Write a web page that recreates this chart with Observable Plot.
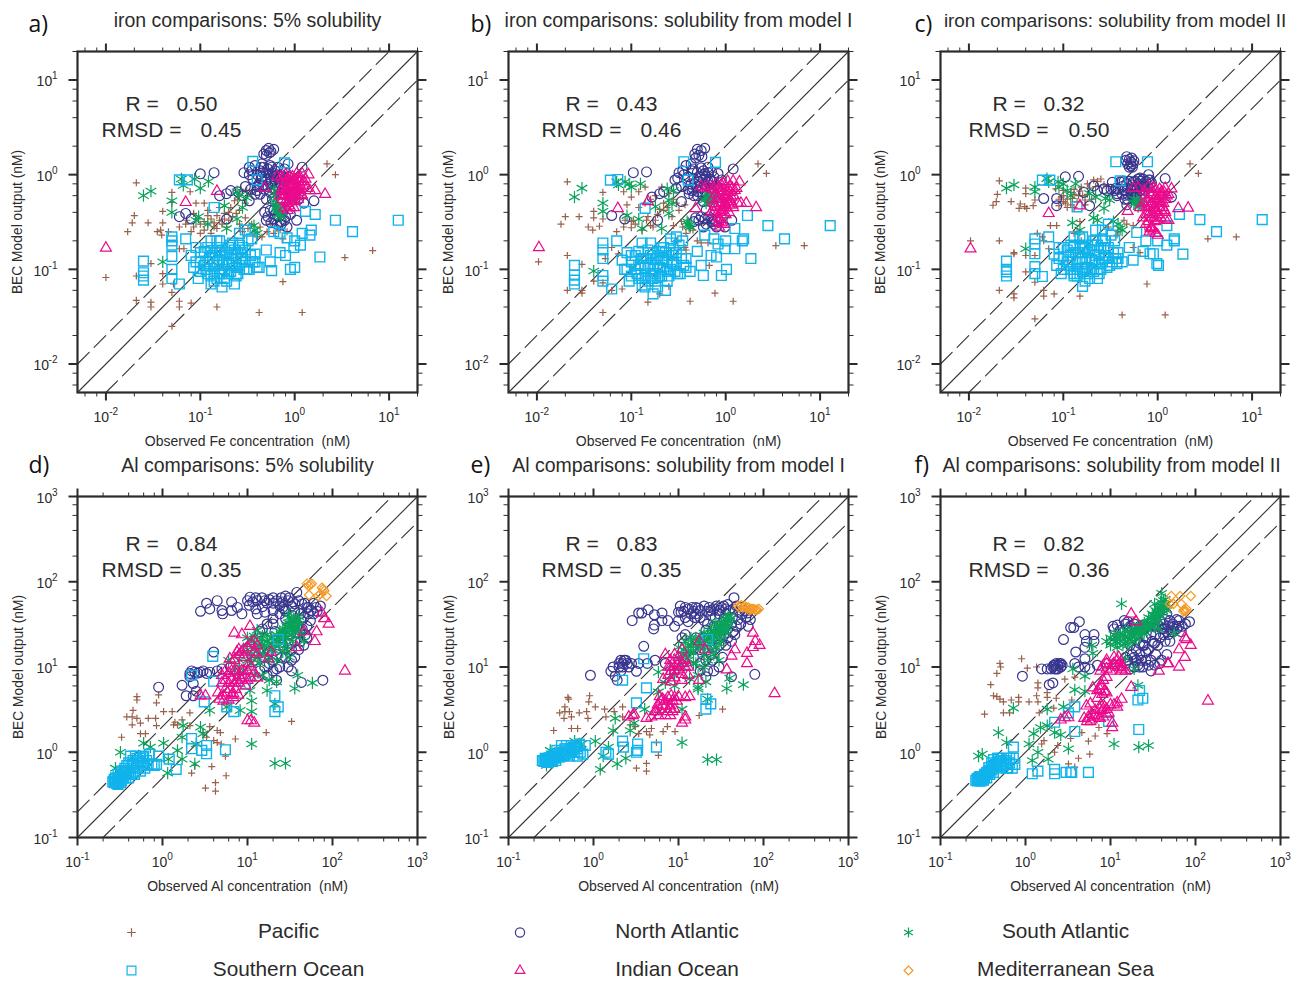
<!DOCTYPE html>
<html><head><meta charset="utf-8">
<script src="https://cdn.jsdelivr.net/npm/d3@7"></script>
<script src="https://cdn.jsdelivr.net/npm/@observablehq/plot@0.6"></script>
<style>
html,body{margin:0;padding:0;background:#fff}
#root{position:relative;width:1298px;height:981px;overflow:hidden}
#root svg{position:absolute;overflow:visible;background:transparent}
</style></head><body><div id="root"></div>
<script>
// values: flat lists x,y,x,y... in nM
const pacificA=[.021,.82,.01,.082,.02,.37,.019,.31,.017,.25,.028,.31,.04,.41,.04,.31,.05,.65,.05,.51,.035,.25,.038,.26,.046,.25,.039,.23,.021,.085,.021,.047,.03,.045,.03,.04,.04,.07,.05,.057,.05,.025,.06,.046,.06,.04,.08,.044,.15,.04,.42,.035,1.2,.035,.75,.074,3.4,.133,6.7,.158,2.7,1,2.2,1.3,.078,.66,.09,.5,.11,.5,.06,.28,.072,.33,.085,.28,.1,.24,.085,.39,.12,.37,.15,.37,.18,.39,.21,.45,.23,.53,.27,.7,.31,.68,.19,.28,.06,.165,.03,.115,.067,.165,.04,.09,.052,.07,.11,.26,.13,.24,.14,.28,.16,.33,.43,.28,.51,.25,.6,.24,.83,.25,.3,.35,.26,.42,.35,.3,.07,.3,.08,.25,.095,.34,.13,.34,.2,.4,.1,.3,.11,.32,.12,.3,.14,.31,.15,.27,.17,.3,.18,.34,.2,.33,.22,.36,.24,.39,.26,.3,.28,.25,.32,.27,.36,.24,.4,.22,.45,.22,.55,.3,.65,.27,.7,.26,.75,.21,.12,.42,.16,.45,.25,.55,.3,.5,.35,.62];
const northAtlanticA=[.47,1.65,.5,1.8,.53,1.9,.56,1.75,.6,1.85,.5,1.6,.54,1.7,.1,1.02,.14,1.05,1.2,1.2,1.6,.53,1.05,.33,.83,.28,.06,.36,.08,.34,.07,.39,.19,.34,.16,.6,.19,.63,.21,.68,.33,.53,.4,.68,.29,1.05,.33,1,.36,.9,.33,1.2,.38,1.25,.43,1.1,.47,1.2,.52,1.15,.57,1.2,.62,1.1,.66,1.2,.72,1,.78,1.15,.85,1.3,.45,.95,.5,.9,.56,.85,.61,.9,.7,.8,.42,.8,.48,.7,.55,.65,.63,.7,.75,.62,.88,.55,.95,.6,1.1,.55,1.25,.5,.75,.4,.68,.36,.6,.34,.52,.36,.5,.33,.56,.31,.65,.3,.72,.3,.78,.33,.28,.6,.25,.66,.98,.72,.9,.8,.35,1.1,.4,1,.44,.9,.46,1.05,.5,1.05,.54,1,.58,1.05,.6,.95,.65,1,.68,.9,.75,.95,.8,.85,.85,.95,.4,.75,.46,.78,.52,.75,.58,.72,.66,.75,.44,1.2,.55,1.25,.72,.32,.8,.36,.62,.38,.55,.42,.48,.4,.7,.45,.45,1.3,.55,.8,.62,.82,.7,.95,.78,.72,.38,.62,.43,.62,.5,.55,.58,.55,.3,.75,.34,.7,.9,.38,.6,.42,.72,.55];
const southAtlanticA=[.025,.6,.03,.67,.05,.53,.05,.4,.04,.12,.063,.9,.087,.9,.066,.77,.122,.85,.1,.72,.096,.36,.09,.33,.12,.3,.19,.27,.18,.47,.245,.34,.28,.45,.26,.6,.31,.57,.245,.66,.38,.26,.37,.29,.66,.42,.7,.38,.65,.47,.72,.4,.6,.53,.6,.71,.155,.11,.62,.6,.64,.45,.68,.44,.7,.42,.66,.38,.72,.36,.4,.24];
const southernA=[12.5,.33,4.1,.25,2.7,.33,1.65,.38,1.3,.41,1.5,.26,1.45,.23,1.2,.24,1.15,.18,1.85,.135,1,.105,.9,.1,.57,.097,.5,.16,.55,.12,.7,.15,.8,.14,.83,.215,1,.2,.98,.17,.7,.24,.6,.25,.4,.88,.36,1.38,.78,1.33,.14,.45,.06,.88,.073,.88,.025,.122,.025,.092,.025,.085,.025,.077,.05,.22,.05,.2,.05,.18,.05,.137,.05,.1,.05,.08,.06,.07,.08,.14,.09,.17,.1,.12,.1,.095,.11,.155,.12,.17,.125,.13,.13,.085,.13,.07,.14,.11,.145,.15,.15,.17,.15,.2,.16,.09,.16,.125,.17,.065,.18,.1,.18,.14,.19,.075,.2,.17,.2,.115,.21,.095,.22,.19,.22,.13,.23,.07,.24,.105,.25,.15,.26,.18,.27,.12,.29,.1,.3,.16,.32,.2,.33,.1,.35,.21,.38,.145,.38,.12,.4,.105,.42,.105,.07,.21,.085,.105,.095,.08,.115,.1,.135,.14,.17,.16,.24,.085,.13,.2,.15,.12,.19,.15,.26,.24,.3,.26,.09,.12,.11,.11,.12,.09,.13,.15,.14,.09,.15,.08,.16,.15,.17,.11,.18,.08,.19,.12,.2,.09,.21,.14,.22,.11,.23,.16,.24,.13,.25,.09,.26,.11,.27,.15,.28,.13,.3,.12,.31,.1,.34,.14,.36,.12,.17,.09,.14,.075,.12,.12,.1,.15,.28,.17,.16,.2,.21,.18];
const indianA=[.01,.168,.07,.51,.15,.67,.48,.72,2.1,.62,1.65,.68,1.4,1,.72,.95,.65,.95,.8,1,.95,.95,1.05,1.02,1.2,1.02,1.3,.9,.75,.75,.8,.62,.75,.55,.85,.5,.9,.45,.85,.7,.9,.85,.95,.6,1,.7,1,.52,1.05,.8,1.1,.65,1.1,.92,1.15,.75,1.2,.6,1.25,.85,.78,.45,.85,.6,.9,.72,.95,.78,1,.88,.98,.45,.7,.6,1.35,.72,1.45,.68,.82,.85,.88,.55,.74,.9,.78,.8,.8,.7,.83,.9,.86,.78,.88,.65,.9,.95,.92,.72,.94,.52,.96,.85,.98,.68,1.02,.75,1.03,.6,1.06,.9,1.08,.55,1.12,.82,1.14,.68,1.17,.9,1.18,.62,1.22,.78,.72,.68,.76,.6,.8,.52,.84,.42,.92,.58,1,.62,1.05,.7,.87,.47,1.1,.72,.96,.65];

const pacificB=[.021,.84,.0104,.12,.02,.36,.018,.3,.028,.36,.04,.35,.04,.41,.05,.65,.05,.34,.035,.28,.039,.26,.046,.285,.021,.14,.03,.113,.021,.06,.03,.056,.04,.075,.062,.06,.05,.035,.15,.045,.42,.046,.77,.056,1.2,.046,3.4,.178,6.8,.178,2.7,1.03,2.2,1.3,.083,.66,.1,.58,.09,.48,.12,.66,.14,.74,.083,.28,.1,.275,.086,.33,.105,.33,.07,.25,.145,.33,.17,.28,.21,.74,.25,.63,.2,.43,.27,.36,.37,.48,.38,.24,.4,.33,.3,.2,.55,.19,.65,.19,.37,.17,.38,.16,.67,.11,.062,.17,.053,.13,.073,.146,.2,.055,.25,.066,.08,.062,.05,.072,.03,.06,.1,.32,.11,.3,.13,.26,.15,.36,.16,.29,.18,.33,.19,.38,.22,.42,.24,.45,.28,.29,.3,.5,.32,.42,.35,.28,.45,.26,.5,.2,.12,.45,.14,.5,.16,.55,.18,.6,.22,.5,.34,.32,.42,.27,.28,.55];
const northAtlanticB=[.105,1.05,.145,1.07,.47,1.65,.5,1.85,.55,1.8,.6,1.9,.52,1.6,.56,1.55,.48,1.5,1.2,1.15,.062,.37,.085,.34,.19,.33,.165,.58,.2,.63,.22,.66,.32,1.05,.31,.92,.38,1.25,.43,1.3,.65,1.2,.83,1.03,.6,1.03,.43,.8,.44,.68,.51,.66,.34,.52,.41,.63,.55,1.18,.71,1.07,.29,.88,.36,1,.9,.88,.52,.33,.6,.34,.75,.3,.8,.28,.98,.28,1.16,.33,.46,.32,.71,.34,.6,.68,.71,.72,.83,.74,.47,.8,.35,1.1,.4,.95,.44,1.1,.46,.9,.5,1.05,.54,.95,.58,1.1,.62,.95,.65,1.05,.68,.9,.75,.95,.5,.75,.55,.72,.6,.8,.65,.85,.7,.65,.46,.6,.56,.62,.62,.6,.72,.32,.8,.32,.62,.3,.55,.36,.48,.35,.66,.36,.58,.28,.45,1.15,.52,.85,.6,.9,.7,.85,.76,.72,.4,.7,.45,.72,.5,.6,.58,.52,.3,.72,.34,.75,.9,.35,.62,.42,.72,.55];
const southAtlanticB=[.025,.58,.03,.72,.05,.5,.05,.41,.04,.096,.07,.84,.073,.78,.086,.84,.1,.74,.125,.8,.095,.8,.09,.37,.12,.34,.13,.27,.18,.46,.25,.39,.21,.27,.25,.54,.28,.68,.27,.49,.24,.71,.39,.32,.41,.29,.65,.56,.8,.58,.6,.54,.71,.52,.62,.5,.66,.6,.7,.56,.75,.55,.62,.58,.4,.3,.42,.28];
const southernB=[12.8,.29,4.2,.21,2.8,.29,1.7,.37,1.25,.27,1.55,.21,1.5,.2,1.25,.165,1.85,.13,1.02,.1,.9,.086,.58,.086,.5,.155,.55,.11,.7,.14,.8,.135,.83,.185,1,.2,.98,.165,.75,.21,.6,.23,.4,.875,.36,1.37,.78,1.35,.14,.44,.06,.875,.072,.89,.025,.11,.025,.087,.025,.077,.025,.07,.05,.19,.05,.16,.05,.13,.05,.086,.05,.075,.062,.062,.08,.125,.09,.15,.1,.12,.1,.085,.11,.14,.12,.155,.125,.11,.13,.08,.13,.068,.14,.105,.145,.13,.15,.16,.16,.085,.16,.115,.17,.055,.18,.09,.18,.13,.19,.065,.2,.155,.2,.105,.21,.085,.22,.17,.22,.125,.23,.06,.24,.095,.25,.14,.26,.19,.27,.115,.29,.095,.3,.15,.32,.18,.33,.09,.35,.2,.38,.13,.38,.105,.42,.095,.07,.2,.085,.1,.095,.075,.115,.09,.135,.13,.17,.15,.24,.075,.13,.19,.15,.11,.19,.14,.26,.21,.3,.22,.09,.1,.11,.1,.12,.08,.13,.13,.14,.08,.15,.075,.16,.14,.17,.1,.18,.075,.19,.11,.2,.085,.21,.13,.22,.1,.23,.15,.24,.12,.25,.085,.26,.1,.27,.14,.28,.12,.3,.11,.31,.09,.34,.13,.36,.11,.17,.08,.14,.065,.12,.11,.1,.14,.28,.16,.16,.19,.21,.17];
const indianB=[.0105,.17,.072,.44,.15,.52,.48,.44,2.1,.45,1.65,.5,1.4,.84,.65,.75,.72,.75,.8,.8,.95,.8,1.05,.85,1.2,.85,1.3,.72,.75,.5,.8,.45,.75,.4,.85,.35,.9,.31,.85,.55,.9,.68,.95,.45,1,.55,1,.38,1.05,.65,1.1,.48,1.1,.75,1.15,.58,1.2,.45,1.25,.68,.85,.28,.95,.3,.7,.4,1.35,.5,1.45,.5,.6,.72,.55,.75,.88,.4,.98,.6,.74,.7,.78,.62,.8,.55,.83,.72,.86,.62,.88,.48,.9,.78,.92,.55,.94,.38,.96,.68,.98,.5,1.02,.6,1.03,.45,1.06,.72,1.08,.4,1.12,.65,1.14,.52,1.17,.72,1.18,.48,1.22,.6,.72,.55,.76,.46,.8,.38,.84,.32,.92,.42,1,.45,1.05,.52,.87,.34,1.1,.55,.96,.48];

const pacificC=[.021,.86,.0104,.2,.02,.62,.0195,.52,.018,.475,.028,.52,.04,.72,.04,.63,.05,.54,.035,.49,.039,.46,.048,.47,.034,.44,.041,.44,.021,.2,.03,.146,.021,.06,.03,.055,.03,.05,.04,.094,.05,.073,.062,.06,.062,.052,.08,.055,.05,.03,.15,.052,.42,.033,.77,.07,1.2,.033,3.4,.21,6.8,.22,2.7,1.03,2.2,1.3,.083,.71,.1,.68,.095,.58,.12,.65,.145,.6,.09,.47,.105,.5,.125,.56,.155,.74,.18,.8,.21,.88,.25,.9,.17,.54,.073,.29,.085,.29,.053,.24,.062,.2,.06,.22,.07,.165,.05,.14,.03,.15,.04,.14,.15,.32,.13,.24,.155,.2,.14,.25,.3,.28,.44,.33,.47,.3,.55,.29,.38,.25,.37,.23,.55,.17,.65,.15,.73,.28,.1,.6,.11,.55,.12,.48,.13,.62,.14,.52,.11,.45,.1,.52,.09,.55,.13,.45,.16,.6,.18,.62,.19,.72,.22,.75,.23,.85,.27,.78,.3,.75,.13,.7,.15,.67,.17,.48,.2,.55];
const northAtlanticC=[.105,.95,.145,.96,.47,1.55,.52,1.36,.55,1.3,.5,1.2,.46,1.42,.53,1.5,1.2,.91,.062,.56,.085,.56,.085,.47,.19,.47,.165,.65,.21,.76,.23,.68,.27,.71,.33,.83,.4,.84,.47,.8,.55,.84,.65,.92,.8,1,.83,.88,.71,.8,.58,.74,.37,.63,.44,.68,.53,.63,.35,.68,.29,.68,.65,.68,.9,.61,1.4,.58,.47,.48,.37,.6,.42,.75,.48,.72,.5,.85,.54,.78,.58,.85,.6,.7,.62,.8,.66,.75,.7,.9,.75,.85,.78,.75,.86,.82,.42,.62,.48,.62,.52,.7,.56,.68,.6,.62,.45,.55,.56,.58,.68,.62,.74,.68,.48,1.3,.5,1.45,.54,1.2,.56,1.4,.52,1.25,.44,.85,.52,.62,.58,.6,.66,.85,.72,.75,.38,.7,.42,.85,.48,.55,.6,.55,.32,.7,.36,.72,.62,.9,.7,.7,.8,.88];
const southAtlanticC=[.025,.72,.03,.78,.05,.74,.05,.66,.04,.165,.067,.91,.07,.84,.088,.84,.09,.74,.11,.68,.135,.8,.12,.6,.1,.8,.19,.63,.22,.58,.28,.56,.31,.54,.27,.44,.21,.35,.23,.33,.125,.31,.15,.26,.34,.32,.38,.3,.4,.27,.6,.54,.65,.48,.56,.5,.58,.5,.62,.52,.64,.5,.68,.5,.56,.55,.62,.46,.42,.26];
const southernC=[12.8,.335,4.2,.25,2.8,.335,1.7,.38,1.25,.29,1.5,.21,1.5,.2,1.25,.18,1.85,.145,1.02,.11,.98,.115,.55,.125,.5,.17,.37,.115,.7,.155,.83,.146,.75,.2,1,.2,.9,.146,.6,.245,.4,.86,.36,1.37,.78,1.37,.14,.456,.06,.875,.072,.875,.025,.122,.025,.1,.025,.094,.025,.085,.05,.21,.05,.185,.05,.146,.05,.107,.05,.09,.06,.084,.16,.066,.08,.145,.09,.17,.1,.135,.1,.1,.11,.16,.12,.18,.125,.12,.13,.09,.13,.085,.14,.12,.145,.15,.15,.18,.15,.21,.16,.095,.16,.13,.17,.075,.18,.105,.18,.15,.19,.08,.2,.18,.2,.125,.21,.095,.22,.2,.22,.14,.23,.08,.24,.115,.25,.17,.26,.21,.27,.13,.29,.105,.3,.17,.32,.23,.33,.12,.35,.2,.38,.15,.38,.13,.42,.12,.07,.22,.085,.11,.095,.09,.115,.11,.135,.15,.17,.17,.24,.09,.13,.22,.15,.13,.19,.16,.26,.26,.3,.3,.22,.26,.09,.13,.11,.12,.12,.1,.13,.17,.14,.1,.15,.09,.16,.17,.17,.12,.18,.09,.19,.13,.2,.1,.21,.16,.22,.12,.23,.18,.24,.14,.25,.1,.26,.12,.27,.17,.28,.14,.3,.13,.31,.11,.34,.15,.36,.13,.17,.1,.14,.085,.12,.14,.1,.17,.28,.2,.16,.22,.21,.2];
const indianC=[.0104,.165,.07,.39,.15,.47,.48,.41,2.1,.445,1.65,.44,1.4,.71,.55,.72,.62,.72,.72,.68,.8,.75,.95,.7,1.05,.7,1.2,.72,1.3,.62,.75,.45,.85,.35,.8,.38,.75,.3,.85,.28,.9,.26,.92,.55,.9,.65,.95,.4,1,.5,1,.33,1.05,.6,1.1,.42,1.1,.66,1.15,.5,1.2,.4,1.25,.6,.82,.25,.95,.24,1,.23,.7,.35,1.3,.33,1.2,.34,.65,.45,.85,.48,.98,.56,.74,.6,.78,.52,.8,.46,.83,.62,.86,.5,.88,.4,.9,.72,.92,.45,.94,.32,.96,.6,.98,.42,1.02,.52,1.03,.38,1.06,.62,1.08,.35,1.12,.58,1.14,.45,1.17,.65,1.18,.42,1.22,.55,.72,.5,.76,.38,.8,.32,.84,.27,.92,.35,1,.38,1.05,.45,.87,.28,1.1,.5,.96,.4];

const pacificD=[.5,4.5,.5,4.1,.45,3.1,.9,4.7,.85,3.8,.38,2.6,.44,2.6,.5,2.5,.44,2.1,.55,2.2,.68,2.5,.83,2.5,.85,2.05,1.03,3,1.3,3,1.4,2.25,1.7,2.4,2.1,2.9,2.1,2.05,.33,1.5,.55,1.65,.63,1.65,3,1.7,3.6,2,4.4,1.8,4.8,1.7,3.3,1.5,4,1.37,4.4,1.3,4.9,1.25,7.2,1.43,2.5,1.25,5.5,.9,3.8,.68,5.6,.53,4.2,.44,4.2,.35,3.2,.38,2.2,.57,2.4,.7,33,2.3,16.6,1.7,1.35,2.1,1.5,2.1];
const northAtlanticD=[.9,5.8,2.8,45,3.3,56,3.6,48,4.4,60,5,46,5.1,42,6.5,58,6.5,46,7.6,50,8.6,42,10.7,66,12.5,65,14.8,65,17,56,20,65,25,65,28,68,31,65,38,75,10.5,53,12.5,48,15,51,20,56,24,52,27,48,33,52,47,56,60,56,72,52,52,42,43,35,50,30,28,37,20,37,20,32,15,28,14,26,4,15,1.7,6.1,2.1,8.4,2.4,8.7,1.9,4.6,2.3,6.4,2.8,8.7,3.3,8.4,3.6,8.7,4.4,9,5,9.5,6.3,10,2.3,4.6,43,6.6,77,7,22,7,33,12,22,9.5,18,11,15.5,13,14.2,16,33,16,41,27,50,22,30,19,10,60,11.5,58,13,60,16,60,18,62,22,60,26,58,30,60,34,58,40,60,44,55,52,50,56,46,64,50,36,45,42,42,46,38,34,40,28,45,24,42,20,46,16,44,13,42,38,30,32,24,26,18,22,14,18,15,16,10,20,12,24,10,28,13,36,20,44,28,2.2,9,2.6,8.5,3,9,2.1,7.7,2.5,5.2,35,30,38,25,42,20,46,18,30,26,25,22,21,26,17,32,16,18,12,12,14,9,17,8,20,9,25,13,30,10,33,9,36,13,40,16,48,24,55,35,60,42,66,45,50,50,36,55,26,50];
const southAtlanticD=[.28,.65,.32,1,.6,1.28,.72,1.15,1.03,1.28,1.15,.57,1.17,.83,1.5,1.05,1.75,2.05,1.7,1.5,1.7,.83,2.4,.73,2.5,1.25,2.8,1.97,3,1.65,3.6,3.1,5.7,3.4,8.2,3.1,10.7,5.3,11.2,4,11.2,3,11.2,1.25,21,.74,28,.74,21,3.7,17,5.3,22,6.7,36,5.6,39,8,58,6.5,31,42,35,37,40,39,29,30,33,27,27,22,22,20,17,20,14.5,21,12,19,11,20,15,17,20,16,29,16,31,13,26,27,38,30,41,32,46,20,13,27,7,9,8,10,11,11,30,33,33,36,36,30,30,25,27,28,25,24,24,18,22,24,19,22,17,24,15,23,14,18,12,23,10,22,10,16,13,13,9,15,20,22,28,18,34,24,36,34,40,27,42,24,31,38,8,12,9,9,12,8,15,8,18,7,6,12,12,16,14,14,16,18,18,19,19,16,21,18,23,22,24,26,26,24,28,26,29,22,30,29,32,31,33,24,35,28,37,33,39,35,34,20,26,15,22,12,18,12,14,11,11,14,16,14,10,12];
const southernD=[.27,.44,.28,.46,.29,.43,.3,.45,.31,.47,.3,.5,.32,.44,.33,.46,.34,.5,.33,.55,.36,.58,.35,.6,.38,.55,.4,.6,.42,.65,.4,.75,.45,.58,.5,.75,.5,.85,.55,.85,.45,.8,.58,.88,.42,.9,.55,.6,.6,.7,.65,.8,.7,.95,.75,.72,.85,.72,.9,.9,.8,.7,1.2,.83,1.45,.63,2.2,1.1,2.2,1.45,2.9,1.05,3.3,1.2,3.3,.96,5.5,1.07,6.9,3,5.7,3.4,3.1,3.9,4,6.8,3.9,13.3,2.2,8,21,4.6,23,3.4,21,3,23,21,9.4,6.4,.28,.5,.3,.55,.32,.48,.33,.6,.35,.52,.36,.65,.37,.5,.38,.7,.4,.5,.42,.55,.44,.72,.45,.68,.47,.55,.48,.9,.5,.65,.52,.8,.55,.75,.6,.9,.62,.65,.68,.72,.3,.42,.27,.48,.26,.45];
const indianD=[140,9,90,32,75,43,80,37,62,20,65,26,46,26,38,17,7,25,8.6,24,10.7,30,12,20,13,18,7.9,16,8.6,15,6.2,12.5,9,13,19,15,17.5,12.5,11,2.35,10,2.35,12,2.2,2.8,4.6,3.2,4.6,5,8,5.5,7,6,8.5,6.5,7,7,9,7.5,7,8,8,8.5,9,9,7.5,10,9,11,7.5,12,8.5,13,7.5,4.5,5,4.7,4.2,5.2,4.6,5.8,5,6.5,4.7,7.2,5.5,6.8,4.9,6,4.1,7.8,4.7,5,6.5,5.5,9,6,6.5,6.5,9,7,6.5,7.5,9,8,6.5,8.5,7,9,9,9.5,6,10,7,10.5,11,11,10,7,12,8,14,9,16,10,17,11,19,12,15,13,14,7.5,15,5.2,4,5.5,5.5,6.2,5.5,6.8,4.4];
const mediterraneanD=[50,95,57,95,53,70,75,85,80,78,68,68,85,68,52,90,55,92,78,82,72,72];

const pacificE=[.5,4.4,.51,4.2,.9,4.6,.88,3.9,.46,3.4,.4,2.9,.46,3,.52,3,.45,2.5,.55,2.6,.68,2.9,.83,3,.86,2.5,1.05,3.4,1.35,3.2,1.4,2.6,1.75,3,2.2,3.4,2.2,2.6,.34,1.8,.55,1.9,.65,1.9,2.7,2.1,3.1,2,4.8,1.9,4.2,1.75,3.4,1.65,4.6,1.6,6.6,1.75,7.4,2,9.1,1.75,5.5,1.3,5.8,.92,4.2,.74,3.2,.65,4.2,.6,33,3.2,17.5,2.7];
const northAtlanticE=[.92,8,2.85,35,3.4,43,3.7,43,4.4,47,5.2,41,5.1,28,5.2,31,6.4,43,6.4,35,7.5,35,9,30,10.5,52,12,50,14.5,50,17,49,20,52,23,50,28,52,34,52,38,54,45,65,55,50,65,43,10.7,44,13,34,15.5,38,20,35,27,38,34,36,43,38,54,32,66,30,10,44,11,22,12,24,2.2,11,2.1,12,2.3,12,2.5,11,2,10,2.8,11,3.2,8.9,1.6,8.9,1.8,7.8,1.9,7,5.3,12,3.4,11,4.3,11,7,11,3.9,17.5,42,7.7,79,8.2,21,7.7,21,12,15,16,25,17,33,13,31,23,21,27,15,13,18,11,25,12,11.5,45,13,48,15,45,16,50,18,46,22,45,24,46,26,48,30,46,32,50,36,48,40,46,44,48,48,52,52,44,60,46,36,42,30,42,24,40,16,42,42,32,48,30,30,18,24,14,34,24,36,18,38,28,44,26,20,22,18,16,22,16,16,22,2.4,12,2.6,10,2.2,10,2,11,1.7,10,2.1,9,10,35,12,38,14,42,18,38,22,32,26,30,30,30,38,22,42,20,46,24,50,36,56,42,62,38,70,36,30,10,26,9,22,9,18,9];
const southAtlanticE=[.28,.7,.31,1.05,.6,1.35,.72,1.25,1.05,1.35,1.2,.63,1.3,.9,1.5,1.15,1.8,2.5,1.7,1.8,1.9,.73,2.4,.85,2.7,1.8,3,2.2,4,3.2,5.8,5.1,9,6,11,3.2,11,1.3,22,.82,28,.82,22,4.2,17,5.5,21,6.7,37,5.6,40,7.4,58,6.2,36,37,32,33,39,31,30,27,28,22,23,19,20,19,17,20,15,19,13,18,11.5,16,14,22,27,33,42,37,24,16,30,12,20,10,17,8,7,6.5,5.8,8.7,9,9.8,13.5,7.3,17,5.8,34,33,37,28,34,26,32,24,28,29,26,25,24,28,26,20,24,22,22,24,20,23,18,22,18,17,16,22,15,15,14,18,13,15,12,20,11,14,10,17,20,14,22,12,16,11,28,17,30,19,32,20,38,34,20,25,22,22,24,25,26,23,28,25,30,30,31,25,33,28,35,32,36,26,38,38,40,40,18,19,16,18,14,15,12,14,13,12,15,11,20,17,26,14,11,10,10,13,9,8];
const southernE=[.26,.78,.27,.8,.28,.77,.29,.82,.3,.8,.31,.85,.32,.78,.33,.82,.34,.87,.36,.9,.38,.88,.35,.95,.4,.95,.42,1,.37,1.05,.46,1.1,.45,.92,.5,.95,.52,1.05,.55,1.2,.48,1.2,.55,1,.6,1,.65,1.1,.7,1,.75,.95,.68,1.25,.65,.9,.8,1.2,.42,1.2,1.4,1,1.5,.95,2.2,1.35,2.25,1.15,3.3,1.25,3.3,1.05,3.2,1,5.5,1.15,2.2,7,3.9,12.5,4.2,5.7,3.2,3.8,22,21,21,4.2,24,3.7,21,3.2,.27,.85,.29,.76,.3,.86,.32,.9,.33,.78,.35,.85,.36,.8,.38,.95,.4,.88,.42,.9,.44,1,.46,.95,.48,1,.5,1.1,.52,.9,.55,1.1,.58,1.15,.6,1.1,.62,1.2,.65,1,.28,.84,.25,.8];
const indianE=[135,4.9,75,25,80,20,90,18,75,17,46,16,64,14.5,42,13.5,64,11,37,9.3,20.5,16,17.5,20,11,16,9,14,7,14,12,10,13,10,9,10,10,9.3,8.2,8.9,7.6,8,11,8.2,6.6,7.2,8.2,6.7,17.5,7,13.5,4.5,12,4.4,9,4.4,8.2,4.6,7.5,4.4,6.5,4.2,6.2,4,5.7,3.6,7,3.5,3,2.8,2.6,2.6,2.9,2.7,4.8,2.6,5.8,2.7,7,2.7,8,2.7,5.3,3,4.2,2.5,12,2.6,12,2.4,11,2.2,8,10,9,9,10,11,11,11,12,12,9,12,10,13,8,12,7.6,10,13,8,11,7,9,7.5,8.5,4,9.5,4,10,4.5,8,3.5,7,4,6,4.5,5.5,3,6,3.2,6.5,3.5,7.5,3,8,3.2,8.5,3,9,3.2];
const mediterraneanE=[50,52,60,52,66,50,80,47,88,48,55,53,73,48,52,50,57,50,62,50,70,48,76,48,84,47,68,46];

const pacificF=[.5,11,.51,10,.9,12.5,1.05,9.7,.46,8.4,1.35,10,.39,6.2,.42,4.6,.46,4.5,.5,4.2,.55,3.9,.68,4.1,.83,4.4,.83,3.9,1.1,3.9,1.35,4.6,1.4,3.9,1.4,6.5,1.4,5.7,1.8,5,1.8,4.4,2.9,7.2,2.3,4.3,3.8,7.6,.33,2.8,.55,2.9,.65,2.9,1.45,2.9,2.15,3.3,3.5,4.1,7.3,1.95,6.6,1.55,9.1,1.65,4.6,1.7,3.4,1.45,5.5,1.35,1.65,1.37,1.55,1.25,2.4,1.2,2.2,1,5.7,.95,4.2,.85,3.8,.67,3.2,.73];
const northAtlanticF=[.92,7.8,2.8,21,3.4,29,3.7,29,4.3,34,5,24,5,17,5.2,20,6.4,24,6.4,20,5,12.5,3.9,15,2.15,10.5,2.2,10.5,2.3,9.5,2.4,10.5,2.5,11,2,9.5,2.6,10,1.8,9.5,1.55,9.5,1.9,6.2,2.1,6.5,3.8,11,4.2,10,5,10,5.7,9.5,7,10.5,9,11,10.7,30,12,31,14.5,35,17,30,20,28,25,28,34,30,42,32,50,35,64,35,85,34,46,42,31,20,22,19,17,18,42,24,33,19,50,20,28,30,64,30,15,13,19,13,23,12,28,10.5,33,10.5,21,10.5,17,9.5,26,15,38,11,15,11,11,28,13,27,15,32,16,34,18,28,19,32,22,30,24,31,26,30,30,33,36,31,38,35,40,28,44,36,48,30,54,32,60,36,34,24,38,22,46,26,52,26,56,30,30,24,26,22,24,18,20,16,18,14,22,14,26,12,30,12,34,14,20,12,16,12,24,10,19,10,2.1,10,2.3,11,2.4,9.5,2.2,9.5,2.6,11,2.7,10.5,42,28,48,24,55,26,60,28,70,30,76,32,68,26,44,20,36,18,28,16,25,18,22,10,30,9,40,12,46,14];
const southAtlanticF=[.28,.9,.31,.95,.48,1.7,.6,1.3,.72,3.3,1.1,1.25,1.25,1.65,1.5,1.95,1.8,2.05,2.2,1.7,2.6,1.6,1.4,1,1.2,.8,1.85,.83,3.2,1.1,11,1.25,21.5,1.15,28,1.2,13.5,55,40,73,21,6.1,3.8,5.4,5,5.2,1.8,3.2,2.8,3.4,6,18,6.2,14.5,3.6,9.5,5,7.8,19,9.5,15,12.5,37,28,56,25,10,22,11.5,20,13,23,14.5,21,16,26,18,24,20,27,22,30,25,33,28,38,31,42,34,46,36,50,39,58,42,50,30,33,24,25,17,21,12,19,27,31,37,42,44,62,33,55,11,24,12,22,13,20,14,24,15,22,16,22,17,25,19,26,19,23,21,25,22,26,23,29,24,30,26,29,28,33,30,37,32,40,33,34,35,38,36,44,38,46,40,52,42,60,45,55,9,20,12,17,14,18,16,18,18,20,20,21,22,23,25,26,28,28,30,30,33,30,36,36,38,40,41,46,43,50,46,46,10,18,13,25,15,27,18,28,21,31];
const southernF=[.27,.46,.28,.48,.29,.46,.3,.5,.31,.48,.32,.52,.33,.5,.34,.55,.35,.58,.37,.6,.38,.62,.4,.62,.42,.7,.4,.75,.45,.65,.47,.75,.5,.78,.52,.85,.48,.85,.55,.7,.58,.8,.6,.72,.62,.65,.65,.75,.7,.65,.75,.72,.72,.85,.42,.82,.6,.85,.72,1.15,1.2,.56,1.4,.6,2.2,.63,2.2,.56,3,.58,3.4,.58,3.5,.58,5.5,.58,21.5,1.85,21,4.1,24,4.3,22,5.3,2.2,2.25,3.2,2.9,3.8,3.4,3.8,1.75,9.5,2.3,.28,.5,.3,.46,.32,.47,.33,.55,.35,.5,.36,.56,.37,.66,.38,.55,.4,.68,.42,.58,.44,.72,.46,.7,.47,.85,.5,.68,.52,.72,.55,.8,.6,.65,.65,.85,.27,.49,.26,.47,.29,.52];
const indianF=[140,4,17.5,42,20,34,75,22,78,21,88,18,64,16,75,13,47,11,48,11,64,10,37,9,12.5,13,9,11,13,10,13.5,9.5,7.6,9,15,9,10.5,10.5,13.5,9,8.2,7,9,7.6,7.6,6,6.2,5.7,17.5,5.8,8,4.8,7,4.3,5.8,3.7,6.6,3.1,5.2,3.5,7.7,3.6,12,3.8,13.5,4.2,11,3.6,10,3.6,12,3.4,8.2,2.6,7,2.6,5.8,2.3,4.9,2.5,5.3,2.3,10.5,2.2,10.5,1.95,3.2,2.55,2.6,2.4,2.9,2.55,8,10,9,9.5,9,12,10,9,11,11,11,13,12,10,12,12,13,11,14,10,7.5,5.5,8,6,8.5,5.2,9,5,7,5.3,7.5,3.2,8,3.1,8.5,3.4,9,3.2,9.5,2.9,6.5,2.7,7.5,2.5,6,2.8,5.5,2.6,6,2.4,9,2.8];
const mediterraneanF=[50,55,55,55,52,68,66,68,88,68,75,46,78,48,68,55,73,47,72,45,77,45];

const rValues=["0.50","0.43","0.32","0.84","0.83","0.82"];
const rmsdValues=["0.45","0.46","0.50","0.35","0.35","0.36"];
const panelLetters=["a)","b)","c)","d)","e)","f)"];
const panelTitles=["iron comparisons: 5% solubility","iron comparisons: solubility from model I","iron comparisons: solubility from model II","Al comparisons: 5% solubility","Al comparisons: solubility from model I","Al comparisons: solubility from model II"];
const seriesNames=["Pacific","North Atlantic","South Atlantic","Southern Ocean","Indian Ocean","Mediterranean Sea"];
const seriesColors=["#99604a","#37358f","#0aa35c","#10b3ec","#ec0a8c","#f59a23"];
const seriesSymbols=["plus","circle","asterisk","square2","triangle2","diamond2"];
const seriesRadii=[2.4,4.9,5.8,6.2,5.2,4.2];
const legendRadii=[2.9,4.6,4.8,5.6,4.6,4];
const panelSeries=[
 [pacificA,northAtlanticA,southAtlanticA,southernA,indianA,[]],
 [pacificB,northAtlanticB,southAtlanticB,southernB,indianB,[]],
 [pacificC,northAtlanticC,southAtlanticC,southernC,indianC,[]],
 [pacificD,northAtlanticD,southAtlanticD,southernD,indianD,mediterraneanD],
 [pacificE,northAtlanticE,southAtlanticE,southernE,indianE,mediterraneanE],
 [pacificF,northAtlanticF,southAtlanticF,southernF,indianF,mediterraneanF]
];
const feDomain=[.005,20], alDomain=[.1,1000];
const feExponents=[-2,-1,0,1], alExponents=[-1,0,1,2,3];
const minorSteps=[2,4,6,8];
const ink="#2b2b2b", font="'Liberation Sans',Arial,sans-serif";

const pairs=f=>f.reduce((a,v,i)=>(i%2?a[a.length-1].push(v):a.push([v]),a),[]);
const root=document.getElementById("root");
const W=431,H=445;
const offsets={x:[0,431,863],y:[0,445]};
const statX=[[48,99,24,123],[57,108,33,132],[52,103,28,128]];
const letterX=[28,470,914];
const titleShift=[0,0,4.5,0,0,1];
const titleSize=[19.5,19.5,18.9,19.5,19.5,19.5];

function panel(i){
 const col=i%3,row=i<3?0:1,isFe=row===0;
 const domain=isFe?feDomain:alDomain, exps=isFe?feExponents:alExponents;
 const marginL=77,marginT=51,marginB=53,marginR=14;
 const majors=exps.map(e=>Math.pow(10,e));
 const decades=d3.range(Math.floor(Math.log10(domain[0])),Math.ceil(Math.log10(domain[1]))+1);
 const minors=decades.flatMap(e=>minorSteps.map(s=>s*Math.pow(10,e))).filter(v=>v>=domain[0]*.999&&v<=domain[1]*1.001);
 const axisStyle={stroke:ink,fill:"none",label:null};
 const marks=[];
 const [lo,hi]=domain;
 const dashStyle={stroke:"#333",strokeWidth:1.1,strokeDasharray:"16.5 7"};
 marks.push(Plot.line([[lo,lo],[hi,hi]],{x:"0",y:"1",stroke:"#333",strokeWidth:1.1}));
 marks.push(Plot.line([[lo,lo*2],[hi/2,hi]],{x:"0",y:"1",...dashStyle}));
 marks.push(Plot.line([[lo*2,lo],[hi,hi/2]],{x:"0",y:"1",...dashStyle}));
 panelSeries[i].forEach((flat,s)=>{
  if(!flat.length) return;
  marks.push(Plot.dot(pairs(flat),{x:"0",y:"1",symbol:seriesSymbols[s],r:seriesRadii[s],stroke:seriesColors[s],fill:"none",strokeWidth:s===3?1.4:1.2}));
 });
 for(const a of ["top","bottom"]){
  marks.push(Plot.axisX(majors,{anchor:a,tickSize:8.5,strokeWidth:2,...axisStyle}));
  marks.push(Plot.axisX(minors,{anchor:a,tickSize:4.5,strokeWidth:1,...axisStyle}));
 }
 for(const a of ["left","right"]){
  marks.push(Plot.axisY(majors,{anchor:a,tickSize:8.5,strokeWidth:2,...axisStyle}));
  marks.push(Plot.axisY(minors,{anchor:a,tickSize:4.5,strokeWidth:1,...axisStyle}));
 }
 exps.forEach(e=>{
  const v=Math.pow(10,e), w=e<0?8.5:5.3, ex=String(e);
  marks.push(Plot.text([v],{x:d=>d,frameAnchor:"bottom",dy:29.5,dx:(15-w)/2,text:()=>"10",textAnchor:"end",fontSize:14,fill:ink}));
  marks.push(Plot.text([v],{x:d=>d,frameAnchor:"bottom",dy:22,dx:(15-w)/2,text:()=>ex,textAnchor:"start",fontSize:10,fill:ink}));
  marks.push(Plot.text([v],{y:d=>d,frameAnchor:"left",dx:-20-w,dy:2,text:()=>"10",textAnchor:"end",fontSize:14,fill:ink}));
  marks.push(Plot.text([v],{y:d=>d,frameAnchor:"left",dx:-20,dy:-4,text:()=>ex,textAnchor:"end",fontSize:10,fill:ink}));
 });
 const one=(t,dx,dy,size)=>Plot.text([t],{text:d=>d,frameAnchor:"top-left",dx,dy,fontSize:size,fill:ink,textAnchor:"start",lineAnchor:"middle"});
 const sy=row===0?[53,79]:[48,74];
 const sx=statX[col];
 marks.push(one("R =",sx[0],sy[0],21));
 marks.push(one(rValues[i],sx[1],sy[0],21));
 marks.push(one("RMSD =",sx[2],sy[1],21));
 marks.push(one(rmsdValues[i],sx[3],sy[1],21));
 marks.push(Plot.text([panelTitles[i]],{text:d=>d,frameAnchor:"top",dy:-31,dx:titleShift[i],fontSize:titleSize[i],fill:ink,lineAnchor:"middle"}));
 marks.push(Plot.text([panelLetters[i]],{text:d=>d,frameAnchor:"top-left",dx:letterX[col]-offsets.x[col]-marginL,dy:row===0?-27:-31,fontSize:23,fontFamily:"'Open Sans',sans-serif",fill:"#111",textAnchor:"start",lineAnchor:"middle"}));
 marks.push(Plot.text([isFe?"Observed Fe concentration  (nM)":"Observed Al concentration  (nM)"],{text:d=>d,frameAnchor:"bottom",dy:49,fontSize:14,fill:ink,lineAnchor:"middle",style:"white-space:pre"}));
 marks.push(Plot.text(["BEC Model output (nM)"],{text:d=>d,frameAnchor:"left",dx:-59.5+(row===0?0:1),rotate:-90,fontSize:13.8,fill:ink,lineAnchor:"middle",textAnchor:"middle"}));
 marks.push(Plot.frame({stroke:ink,strokeWidth:2.2}));
 const svg=Plot.plot({
  width:W,height:H,marginLeft:marginL,marginRight:marginR,marginTop:marginT,marginBottom:marginB,
  x:{type:"log",domain,axis:null},y:{type:"log",domain,axis:null},
  style:{fontFamily:font,background:"transparent",overflow:"visible"},marks});
 svg.style.left=offsets.x[col]+"px";svg.style.top=offsets.y[row]+"px";
 root.appendChild(svg);
}
panelSeries.forEach((_,i)=>panel(i));

// legend
const legendData=seriesNames.map((name,i)=>({name,col:[0,1,2,0,1,2][i],row:i<3?0:1,i}));
const legend=Plot.plot({
 width:1298,height:76,marginLeft:131,marginRight:390,marginTop:27,marginBottom:11,
 x:{domain:[0,2],axis:null},y:{domain:[1,0],axis:null},
 style:{fontFamily:font,background:"transparent"},
 marks:legendData.map(d=>Plot.dot([d],{x:"col",y:"row",symbol:seriesSymbols[d.i],r:legendRadii[d.i],stroke:seriesColors[d.i],fill:"none",strokeWidth:1.2}))
  .concat([Plot.text(legendData,{x:"col",y:"row",text:"name",dx:157,dy:-1,fontSize:20.8,fill:ink})])
});
legend.style.left="0px";legend.style.top="905px";
root.appendChild(legend);
</script></body></html>
